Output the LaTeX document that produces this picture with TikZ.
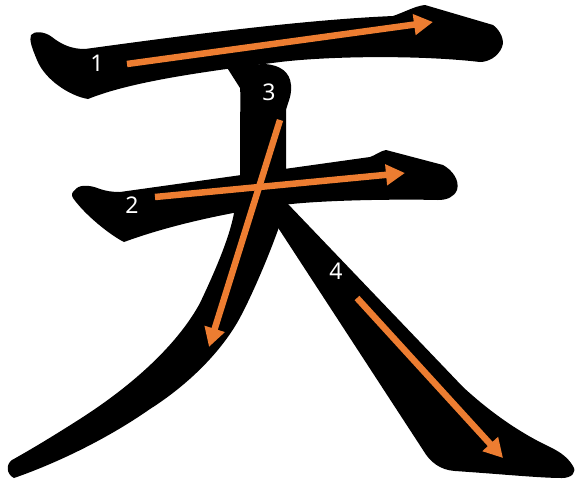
\documentclass[tikz,border=0pt]{standalone}
\usepackage{xcolor}
\usepackage{fontspec}
\usepackage{tikz}
\usetikzlibrary{arrows.meta}
\newfontfamily\numfont{Noto Sans}
\definecolor{strokeorange}{HTML}{ED7D31}

\begin{document}
\begin{tikzpicture}[
  x=1pt, y=-1pt,
  glyph/.style={fill=black, draw=none},
  arr/.style={-{Triangle[length=19pt, width=20pt]}, line width=6.5pt, draw=strokeorange},
  num/.style={text=white, inner sep=0pt, font=\numfont\bfseries\fontsize{23}{23}\selectfont},
]
\useasboundingbox (0,0) rectangle (575,483);

% stroke 1: top horizontal
\fill[glyph] (31,35) .. controls (34,31) and (44,31) .. (52,37)
  .. controls (62,45) and (72,49) .. (85,49)
  .. controls (180,36) and (300,20) .. (393,16)
  .. controls (405,12) and (415,6) .. (425,5) -- (493,25)
  .. controls (500,30) and (505,40) .. (502,47)
  .. controls (498,57) and (488,62) .. (480,62)
  .. controls (420,55) and (330,56) .. (280,62)
  .. controls (200,72) and (130,82) .. (88,99)
  .. controls (70,96) and (45,80) .. (37,60)
  .. controls (32,48) and (29,40) .. (31,35) -- cycle;

% stroke 2: middle horizontal
\fill[glyph] (75,190) .. controls (78,185) and (88,184) .. (100,189)
  .. controls (106,191) and (112,192) .. (120,192) -- (370,157)
  .. controls (376,155) and (380,151) .. (386,150) -- (443,165)
  .. controls (452,170) and (460,180) .. (457,190)
  .. controls (454,197) and (447,200) .. (438,200)
  .. controls (400,199) and (320,200) .. (283,205)
  .. controls (230,212) and (170,225) .. (124,242)
  .. controls (110,235) and (85,215) .. (73,198)
  .. controls (71,195) and (72,192) .. (75,190) -- cycle;

% stroke 3: left-falling
\fill[glyph] (226,66) -- (240,88)
  .. controls (241,100) and (240,110) .. (240,130) -- (240,190) -- (234,213)
  .. controls (230,235) and (218,265) .. (200,303)
  .. controls (180,340) and (140,380) .. (83,417)
  .. controls (55,435) and (30,450) .. (12,460)
  .. controls (6,464) and (6,474) .. (14,478)
  .. controls (60,462) and (110,437) .. (150,409)
  .. controls (180,390) and (215,360) .. (237,323)
  .. controls (252,297) and (278,235) .. (286,205) -- (286,110)
  .. controls (288,102) and (292,95) .. (291,85)
  .. controls (290,72) and (280,65) .. (265,64) -- cycle;

% stroke 4: right-falling
\fill[glyph] (260,195) -- (260,200) -- (423,450)
  .. controls (430,462) and (440,470) .. (455,471)
  .. controls (500,474) and (540,478) .. (562,478)
  .. controls (572,478) and (577,472) .. (573,466)
  .. controls (568,458) and (562,453) .. (550,447)
  .. controls (520,433) and (490,412) .. (463,387)
  -- (287,203) -- (287,195) -- cycle;

% arrow ends
\coordinate (a1) at (127,64);  \coordinate (b1) at (433,22);
\coordinate (a2) at (155,197); \coordinate (b2) at (405,173);
\coordinate (a3) at (280,120); \coordinate (b3) at (209,347);
\coordinate (a4) at (357,298); \coordinate (b4) at (503,458);

\draw[arr] (a1) -- (b1);
\draw[arr] (a2) -- (b2);
\draw[arr] (a3) -- (b3);
\draw[arr] (a4) -- (b4);

% stroke numbers
\node[num] (n1) at (97,63.5) {1};
\node[num] (n2) at (132,205) {2};
\node[num] (n3) at (269,92) {3};
\node[num] (n4) at (336,271) {4};
\end{tikzpicture}
\end{document}
